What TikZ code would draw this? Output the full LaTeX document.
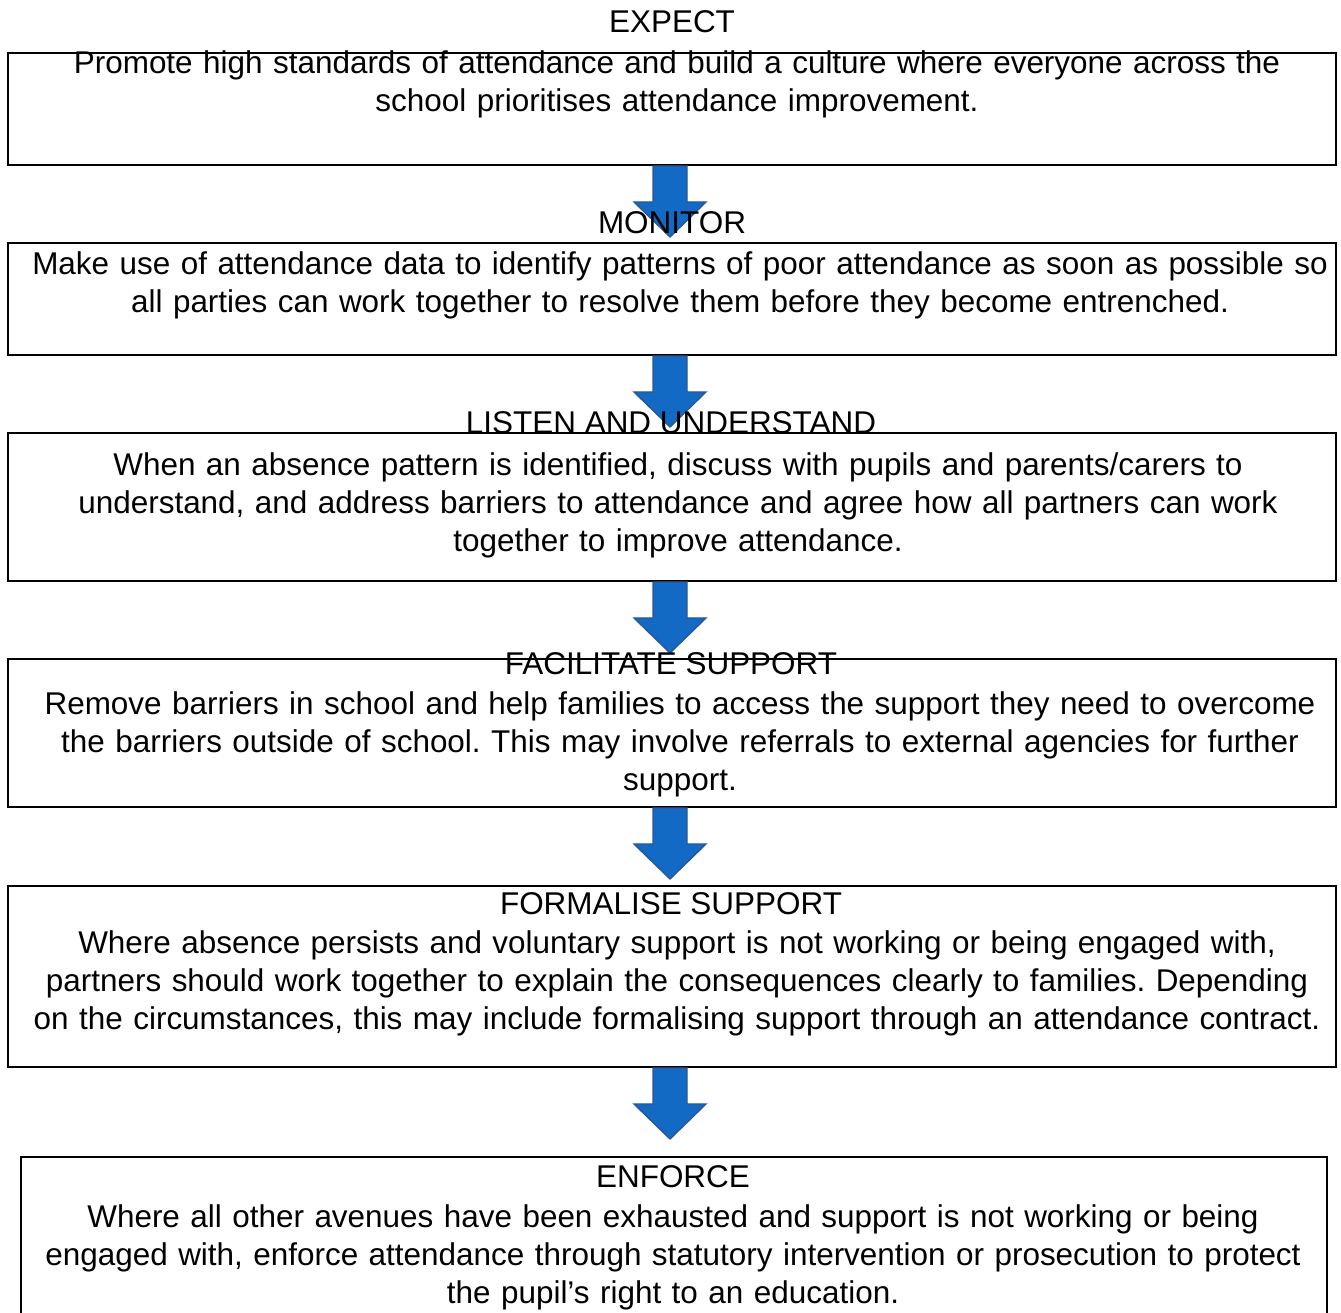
\documentclass[tikz,border=0pt]{standalone}
\usepackage{fontspec}
\setmainfont{Liberation Sans}
\usetikzlibrary{positioning,fit}
\definecolor{arrowfill}{RGB}{18,106,196}
\definecolor{arrowline}{RGB}{42,88,150}
\frenchspacing

\begin{document}
\begin{tikzpicture}
		[x=0.02cm, y=-0.02cm,
		font=\fontsize{17.9}{21.8}\selectfont,
		frame/.style={draw=black, line width=1.1pt, inner sep=0pt},
		body/.style={text width=26.8cm, align=center, inner sep=0pt, anchor=base},
		heading/.style={inner sep=0pt, anchor=base},
		blockarrow/.style={fill=arrowfill, draw=arrowline, line width=0.8pt},
		]
		\useasboundingbox (0,0) rectangle (1341,1312);
		
		% frames
		\node[frame, fit={(8,53) (1336,165)}] (expect) {};
		\node[frame, fit={(8,243) (1336,355)}] (monitor) {};
		\node[frame, fit={(8,433) (1336,581)}] (listen) {};
		\node[frame, fit={(8,659) (1336,807)}] (facilitate) {};
		\node[frame, fit={(8,886) (1336,1067)}] (formalise) {};
		\node[frame, fit={(21,1157) (1327,1340)}] (enforce) {};
		
		% texts
		\node[body] (expectT) at (677,73) {Promote high standards of attendance and build a culture where everyone across the\\
			school prioritises attendance improvement.};
		\node[body] (monitorT) at (680,274) {Make use of attendance data to identify patterns of poor attendance as soon as possible so\\
			all parties can work together to resolve them before they become entrenched.};
		\node[body] (listenT) at (678,475) {When an absence pattern is identified, discuss with pupils and parents/carers to\\
			understand, and address barriers to attendance and agree how all partners can work\\
			together to improve attendance.};
		\node[body] (facilitateT) at (680,714) {Remove barriers in school and help families to access the support they need to overcome\\
			the barriers outside of school. This may involve referrals to external agencies for further\\
			support.};
		\node[body] (formaliseT) at (677,953) {Where absence persists and voluntary support is not working or being engaged with,\\
			partners should work together to explain the consequences clearly to families. Depending\\
			on the circumstances, this may include formalising support through an attendance contract.};
		\node[body] (enforceT) at (673,1227) {Where all other avenues have been exhausted and support is not working or being\\
			engaged with, enforce attendance through statutory intervention or prosecution to protect\\
			the pupil’s right to an education.};
		
		% arrows
		\foreach \a in {expect,monitor,listen,facilitate,formalise}
		\draw[blockarrow] (\a.south) ++(-19,0) -- ++(0,36) -- ++(-19,0) -- ++(36,35)
			-- ++(36,-35) -- ++(-19,0) -- ++(0,-36) -- cycle;
		
		% headings
		\node[heading] (expectH) at (672,32) {EXPECT};
		\node[heading] (monitorH) at (672,233) {MONITOR};
		\node[heading] (listenH) at (671,433) {LISTEN AND UNDERSTAND};
		\node[heading] (facilitateH) at (671,674) {FACILITATE SUPPORT};
		\node[heading] (formaliseH) at (671,914) {FORMALISE SUPPORT};
		\node[heading] (enforceH) at (673,1187) {ENFORCE};
		
	\end{tikzpicture}
\end{document}
